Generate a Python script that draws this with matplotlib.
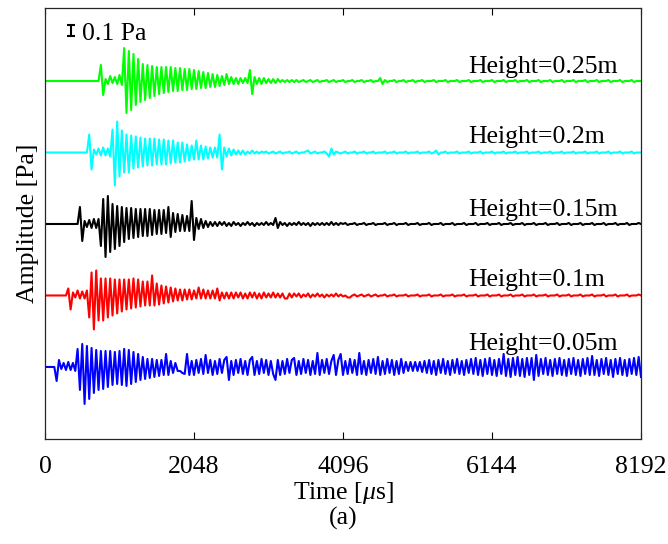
import numpy as np
import matplotlib
matplotlib.use("Agg")
import matplotlib.pyplot as plt

plt.rcParams['font.family'] = ['Liberation Serif', 'DejaVu Serif']
plt.rcParams['mathtext.fontset'] = 'custom'
plt.rcParams['mathtext.rm'] = 'Liberation Serif'
plt.rcParams['mathtext.it'] = 'Liberation Serif:italic'

# one value every 32 us (110 counts = 1 Pa)
DT = 32
AMP_UNIT = 1 / 110.0

heights = ['0.05m', '0.1m', '0.15m', '0.2m', '0.25m']
xticks = [0, 2048, 4096, 6144, 8192]

h005 = [0, 0, 0, 0, 0, -14, 7, -2, 4, -3, 5, -3, 4, -4, 18, -23,
        23, -37, 21, -32, 19, -26, 17, -23, 16, -22, 16, -20, 16, -18, 15, -17,
        16, -18, 18, -19, 17, -17, 15, -15, 13, -13, 10, -12, 8, -11, 8, -10,
        7, -9, 7, -8, 13, -8, 6, -6, 4, -4, -4, -6, -7, 13, -8, 6,
        -8, 7, -6, 8, -7, 12, -6, 7, -8, 6, -7, 8, -6, 7, 10, -13,
        6, -8, 7, -6, 8, -7, 6, -8, 7, 10, -8, 6, -7, 8, -6, 7,
        -8, 6, -7, -13, 7, -8, 6, -7, 8, -6, 7, 9, -8, 6, -7, 8,
        -6, 7, -8, 6, -7, 14, -8, 7, -6, 8, -7, 6, 12, -8, 7, 13,
        -8, 6, -7, 8, -6, 7, -8, 14, -7, 6, -8, 7, -6, 8, -7, 10,
        -8, 6, -7, 8, -6, 7, -8, 6, -7, 8, -6, 5, -4, 5, -4, 5,
        -4, 5, -5, 6, -6, 7, -7, 6, -8, 7, -6, 8, -7, 6, -8, 7,
        -6, 8, -7, 6, -8, 7, -6, 8, -7, 9, -8, 7, -9, 8, -7, 9,
        -8, 7, -9, 8, -7, 13, -9, 8, -10, 9, -8, 10, -9, 8, -10, 9,
        -8, 9, -13, 12, -9, 8, -7, 9, -8, 7, -9, 8, -7, 9, -8, 7,
        -9, 8, -7, 9, -8, 7, -9, 8, -7, 9, -8, 11, -8, 7, -9, 8,
        -7, 9, -8, 7, -10, 8, -7, 9, -8, 7, -9, 8, -7, 9, -8, 10,
        -10]

h010 = [0, 0, 0, 0, 0, 0, 0, 0, 0, 0, 7, -14, 3, -2, 5, -3,
        4, -3, 5, -22, 23, -34, 25, -25, 17, -25, 17, -22, 17, -20, 16, -18,
        16, -16, 16, -14, 16, -13, 17, -12, 16, -11, 14, -10, 14, -10, 20, -10,
        12, -9, 10, -8, 9, -7, 8, -6, 7, -5, 6, -5, 6, -4, 6, -4,
        5, -3, 8, -3, 6, -3, 5, -3, 5, -3, 7, -5, 3, -3, 3, -3,
        3, -3, 3, -2, 3, -3, 2, -3, 3, -2, 3, -3, 2, -3, 3, -2,
        2, -2, 3, -2, 2, -2, 2, -3, -3, 2, -2, 2, -1, 2, -2, 1,
        -1, 2, -2, 1, -1, 2, -1, 1, -2, 1, -1, 1, -1, 2, -1, 1,
        -1, 0, -2, -2, 0, 1, -1, 0, 1, -1, 0, 1, -1, 0, 1, -1,
        0, 0, 1, -1, 0, 0, 1, -1, 0, 0, 0, 1, -1, 0, 0, 0,
        1, -1, 0, 0, 0, 1, -1, 0, 0, 0, 1, -1, 0, 0, 0, 1,
        -1, 0, 0, 0, 1, -1, 0, 0, 0, 1, -1, 0, 0, 0, 1, -1,
        0, 0, 0, 1, -1, 0, 0, 0, 1, -1, 0, 0, 0, 1, -1, 0,
        0, 0, 1, -1, 0, 0, 0, 1, -1, 0, 0, 0, 1, -1, 0, 0,
        0, 1, -1, 0, 0, 0, 1, -1, 0, 0, 0, 1, -1, 0, 0, 0,
        1, -1, 0, 0, 0, 1, -1, 0, 0, 0, 1, -1, 0, 0, 0, 1,
        0]

h015 = [0, 0, 0, 0, 0, 0, 0, 0, 0, 0, 0, 0, 0, 0, 0, 17,
        -17, 3, -3, 4, -4, 5, -4, 5, -22, 25, -33, 28, -28, 20, -25, 18,
        -22, 17, -18, 16, -15, 16, -14, 15, -13, 15, -12, 15, -12, 15, -11, 14,
        -10, 14, -10, 14, -9, 17, -13, 11, -8, 10, -7, 9, -7, 8, -7, 23,
        -16, 6, -5, 5, -4, 3, -3, 2, -2, 2, -2, 2, -1, 2, -2, 1,
        -2, 2, -1, 1, -2, 1, -1, 2, -1, 1, -2, 1, -1, 1, -1, 2,
        -1, 1, -1, 6, -4, 2, -1, 1, -2, 1, -1, 1, -1, 2, -1, 1,
        -1, 1, -2, 1, -1, 1, -1, 1, -1, 1, -1, 2, -1, 1, -1, 1,
        0, 1, -1, 0, 0, 1, -1, 0, 0, 1, -1, 0, 0, 1, -1, 0,
        0, 0, 1, -1, 0, 0, 1, -1, 0, 0, 0, 1, -1, 0, 0, 0,
        1, -1, 0, 0, 0, 1, -1, 0, 0, 0, 1, -1, 0, 0, 0, 1,
        -1, 0, 0, 0, 1, -1, 0, 0, 0, 1, -1, 0, 0, 0, 1, -1,
        0, 0, 0, 1, -1, 0, 0, 0, 1, -1, 0, 0, 0, 1, -1, 0,
        0, 0, 1, -1, 0, 0, 0, 1, -1, 0, 0, 0, 1, -1, 0, 0,
        0, 1, -1, 0, 0, 0, 1, -1, 0, 0, 0, 1, -1, 0, 0, 0,
        1, -1, 0, 0, 0, 1, -1, 0, 0, 0, 1, -1, 0, 0, 0, 1,
        0]

h020 = [0, 0, 0, 0, 0, 0, 0, 0, 0, 0, 0, 0, 0, 0, 0, 0,
        0, 0, 0, 18, -17, 3, -2, 4, -3, 5, -3, 4, -4, 23, -33, 31,
        -24, 22, -20, 18, -20, 17, -16, 16, -15, 15, -14, 14, -13, 14, -13, 14,
        -12, 13, -12, 13, -12, 12, -11, 12, -10, 10, -10, 10, -9, 8, -8, 7,
        -7, 12, -7, 7, -7, 6, -6, 5, -5, 5, -5, 18, -17, 5, -4, 4,
        -3, 3, -2, 2, -2, 2, -2, 1, -1, 2, -1, 1, -1, 1, 0, 1,
        -1, 0, 1, -1, 0, 1, -1, 0, 0, 1, -1, 0, 1, -1, 0, 0,
        1, 2, -1, 0, 1, -1, 0, 0, 1, -1, -4, 4, -2, 1, 0, -1,
        0, 1, -1, 0, 0, 1, -1, 0, 0, 1, -1, 0, 0, 1, -1, 0,
        0, 0, 1, -1, 0, 0, 1, -1, 0, 0, 0, 1, -1, 0, 0, 0,
        1, -1, 0, 0, 0, 1, -1, 0, 2, -2, 0, 0, 1, -1, 0, 0,
        0, 1, -1, 0, 0, 0, 1, -1, 0, 0, 0, 1, -1, 0, 0, 0,
        1, -1, 0, 0, 0, 1, -1, 0, 0, 0, 1, -1, 0, 0, 0, 1,
        -1, 0, 0, 0, 1, -1, 0, 0, 0, 1, -1, 0, 0, 0, 1, -1,
        0, 0, 0, 1, -1, 0, 0, 0, 1, -1, 0, 0, 0, 1, -1, 0,
        0, 0, 1, -1, 0, 0, 0, 1, -1, 0, 0, 0, 1, -1, 0, 0,
        0]

h025 = [0, 0, 0, 0, 0, 0, 0, 0, 0, 0, 0, 0, 0, 0, 0, 0,
        0, 0, 0, 0, 0, 0, 0, 0, 16, -14, 2, -3, 5, -2, 4, -3,
        6, -4, 33, -32, 30, -29, 27, -24, 22, -21, 17, -19, 16, -17, 15, -15,
        14, -13, 14, -12, 14, -11, 14, -10, 13, -10, 13, -9, 12, -9, 12, -8,
        11, -8, 10, -7, 9, -7, 8, -6, 7, -6, 6, -5, 5, -4, 7, -3,
        4, -3, 3, -3, 3, -2, 3, -2, 11, -13, 4, -3, 3, -3, 3, -2,
        2, -2, 2, -2, 2, -1, 1, -1, 1, -1, 1, -1, 1, -1, 0, 1,
        -1, 0, 1, -1, 0, 1, -1, 0, 0, 1, -1, 0, 1, -1, 0, 0,
        1, -1, 0, 0, 1, -1, 0, 0, 1, -1, 0, 0, 1, -1, 0, 0,
        3, -3, 1, -1, 0, 0, 1, -1, 0, 0, 1, -1, 0, 0, 1, -1,
        0, 0, 1, -1, 0, 0, 0, 1, -1, 0, 0, 0, 1, -1, 0, 0,
        0, 1, -1, 0, 0, 0, 1, -1, 0, 0, 0, 1, -1, 0, 0, 0,
        1, -1, 0, 0, 0, 1, -1, 0, 0, 0, 1, -1, 0, 0, 0, 1,
        -1, 0, 0, 0, 1, -1, 0, 0, 0, 1, -1, 0, 0, 0, 1, -1,
        0, 0, 0, 1, -1, 0, 0, 0, 1, -1, 0, 0, 0, 1, -1, 0,
        0, 0, 1, -1, 0, 0, 0, 1, -1, 0, 0, 0, 1, -1, 0, 0,
        0]

traces = [h005, h010, h015, h020, h025]
colors = ['#0000ff', '#ff0000', '#000000', '#00ffff', '#00ff00']
offsets = [0.0, 0.65, 1.3, 1.95, 2.6]
label_gap = [17, 9, 8, 10, 8]  # counts above trace for the text

FS = 18.5

fig = plt.figure(figsize=(6.68, 5.44), dpi=100)
ax = fig.add_axes([45 / 668, 105 / 544, 596 / 668, 431 / 544])

for name, vals, col, off, gap in zip(heights, traces, colors, offsets, label_gap):
    v = np.array(vals) * AMP_UNIT
    t = np.arange(len(v)) * DT
    ax.plot(t, off + v, color=col, lw=1.5)
    ax.text(5814, off + gap * AMP_UNIT, 'Height=' + name, fontsize=FS,
            ha='left', va='baseline')

# scale bar
ax.errorbar([357], [3.055], yerr=0.05, color='k', capsize=3, lw=1.5, capthick=1.5)
ax.text(508, 2.973, '0.1 Pa', fontsize=FS, ha='left', va='baseline')

ax.set_xlim(0, 8192)
ax.set_ylim(-0.655, 3.264)
ax.set_xticks(xticks)
ax.set_xticklabels([str(x) for x in xticks])
ax.set_yticks([])
ax.tick_params(axis='x', direction='in', top=True, length=5, labelsize=FS, pad=12)
for s in ax.spines.values():
    s.set_color('#262626')
    s.set_linewidth(0.9)

ax.set_xlabel(r'Time [$\mu$s]', fontsize=FS, labelpad=2)
ax.set_ylabel('Amplitude [Pa]', fontsize=FS, labelpad=4)
fig.text(343 / 668, 26 / 544, '(a)', fontsize=FS, ha='center', va='center')

fig.savefig('out.png', dpi=100)
